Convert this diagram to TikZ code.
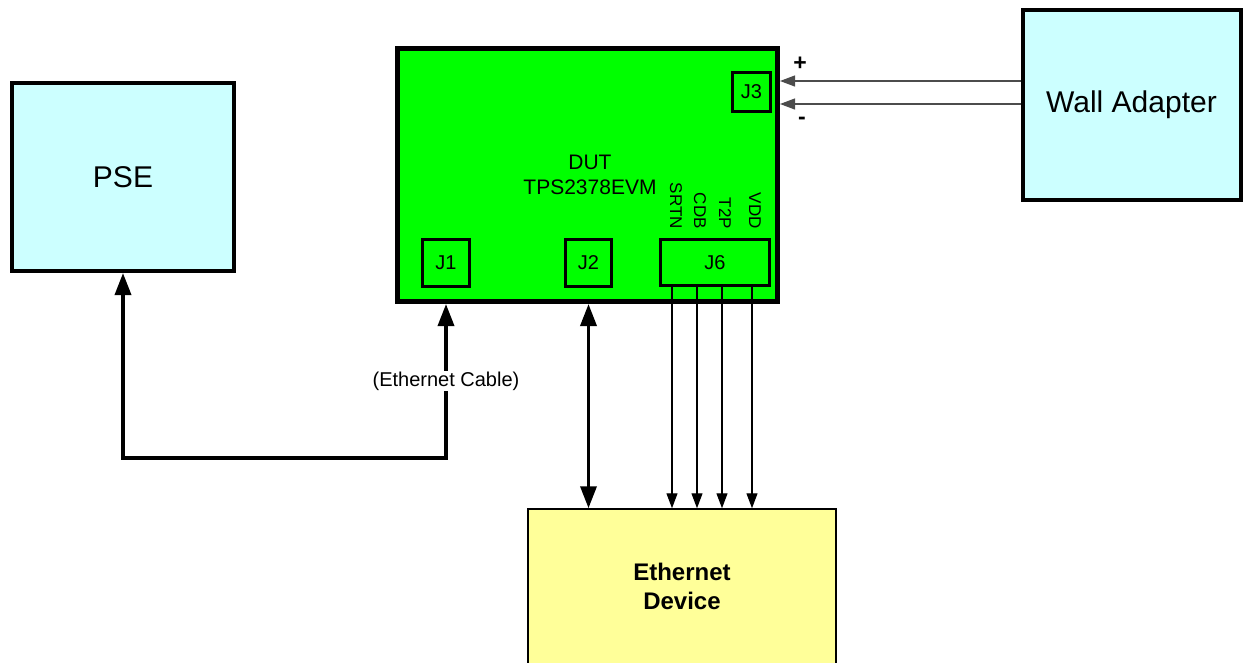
\documentclass[tikz,border=0pt]{standalone}
\usepackage{fontspec}
\setmainfont{Liberation Sans}
\usepackage{xcolor}
\usepackage{tikz}
\usetikzlibrary{arrows.meta}
\definecolor{psecyan}{HTML}{CCFFFF}
\definecolor{dutgreen}{HTML}{00FF00}
\definecolor{devyellow}{HTML}{FFFF99}
\tikzstyle{unit} = [rectangle, draw, fill=psecyan, line width=4pt,
    inner sep=0pt, font=\fontsize{30}{34}\selectfont]
\tikzstyle{board} = [rectangle, draw, fill=dutgreen, line width=5pt, inner sep=0pt]
\tikzstyle{jack} = [rectangle, draw, line width=3pt, inner sep=0pt,
    font=\fontsize{20}{24}\selectfont]
\tikzstyle{device} = [rectangle, draw, fill=devyellow, line width=1.5pt,
    inner sep=0pt, align=center, font=\bfseries\fontsize{24}{29}\selectfont]
\tikzstyle{pinlabel} = [rotate=-90, anchor=east, inner sep=0pt,
    font=\fontsize{17}{20}\selectfont]
\tikzstyle{cable} = [draw, line width=3.5pt,
    {Triangle[length=22pt,width=16pt]}-{Triangle[length=22pt,width=16pt]}]
\tikzstyle{wire} = [draw, line width=1.2pt, -{Triangle[length=15pt,width=11pt]}]

\begin{document}
\begin{tikzpicture}[x=1pt, y=-1pt]
      \path[use as bounding box, clip] (0,0) rectangle (1243,662);
      % Place nodes
      \node [unit, minimum width=222pt, minimum height=188pt] (pse) at (123,177) {PSE};
      \node [unit, minimum width=218pt, minimum height=190pt] (wall) at (1131.5,104.5) {Wall Adapter};
      \node [board, minimum width=380pt, minimum height=253pt] (dut) at (587.5,175) {};
      \node [font=\fontsize{21}{25}\selectfont, align=center] (duttext) at (590,175) {DUT\\TPS2378EVM};
      \node [device, minimum width=308pt, minimum height=155pt] (eth) at (682,586.5) {Ethernet\\Device};

      % Jacks on the board
      \node [jack, minimum width=47pt, minimum height=47pt] (j1) at (446,263) {J1};
      \node [jack, minimum width=46pt, minimum height=47pt] (j2) at (588.5,263) {J2};
      \node [jack, minimum width=109pt, minimum height=46pt] (j6) at (715,262.5) {J6};
      \node [jack, minimum width=38pt, minimum height=39pt] (j3) at (751.5,92) {J3};
      \foreach \pin/\px in {SRTN/676, CDB/700, T2P/725, VDD/755}
        \node [pinlabel] (pin\pin) at (\px,229) {\pin};

      % Power input
      \path [wire, draw=black!70] (wall.west |- 0,81) -- (dut.east |- 0,81);
      \path [wire, draw=black!70] (wall.west |- 0,104) -- (dut.east |- 0,104);
      \node [font=\bfseries\fontsize{23}{26}\selectfont] (plus) at (800,64) {+};
      \node [font=\bfseries\fontsize{23}{26}\selectfont] (minus) at (802,121) {-};

      % Ethernet links
      \coordinate (cablebend) at (j1 |- 0,458);
      \path [cable] (pse.south) |- (cablebend) -- node [fill=white, inner sep=1pt,
          font=\fontsize{20}{24}\selectfont] (cablelabel) {(Ethernet Cable)} (j1 |- dut.south);
      \path [cable] (j2 |- dut.south) -- (j2 |- eth.north);

      % J6 signals
      \foreach \px in {672, 697, 722, 752}
        \path [wire] (\px,0 |- j6.south) -- (\px,0 |- eth.north);
\end{tikzpicture}
\end{document}
